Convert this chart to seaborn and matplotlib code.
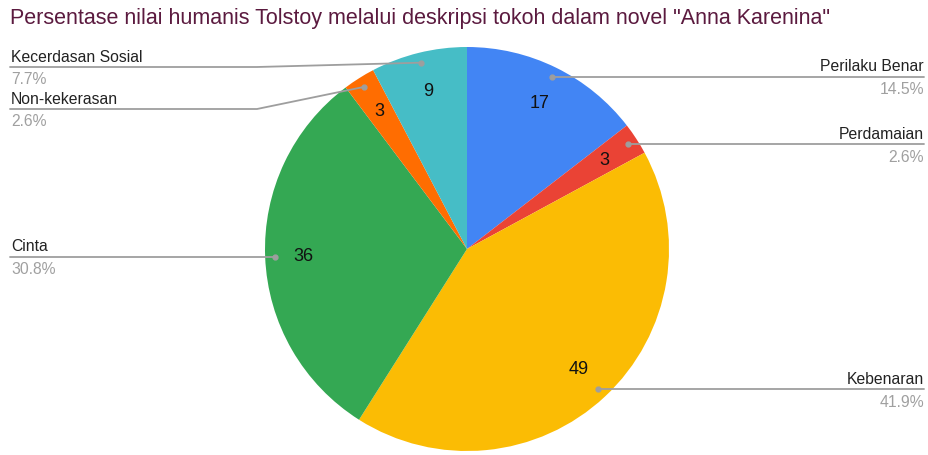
import numpy as np
import matplotlib
matplotlib.use("Agg")
import matplotlib.pyplot as plt
import seaborn as sns

# ---- data ----
categories = ["Perilaku Benar", "Perdamaian", "Kebenaran", "Cinta", "Non-kekerasan", "Kecerdasan Sosial"]
values = [17, 3, 49, 36, 3, 9]
colors = ["#4285F4", "#EA4335", "#FBBC04", "#34A853", "#FF6D01", "#46BDC6"]
title = 'Persentase nilai humanis Tolstoy melalui deskripsi tokoh dalam novel "Anna Karenina"'

sns.set_theme(style="white")
plt.rcParams["font.family"] = ["Liberation Sans", "DejaVu Sans"]

W, H = 929, 456
fig = plt.figure(figsize=(W / 100, H / 100), dpi=100)
ax = fig.add_axes([0, 0, 1, 1])

cx, cy, R = 467, H - 250, 202
total = sum(values)

wedges, texts, autotexts = ax.pie(
    values, colors=sns.color_palette(colors), startangle=90, counterclock=False,
    center=(cx, cy), radius=R,
    autopct=lambda p: f"{p * total / 100:.0f}", pctdistance=0.81,
    wedgeprops=dict(linewidth=0),
    textprops=dict(fontsize=13, color="#111111"),
)
ax.set_xlim(0, W)
ax.set_ylim(0, H)
ax.set_aspect("equal")
ax.axis("off")

# ---- leader lines & labels (layout) ----
line_col = "#9e9e9e"
# horizontal line y (pixels from top) override for crowded left labels
line_y_override = {"Non-kekerasan": 110, "Kecerdasan Sosial": 68}
bend_x_left = 257
for w, cat, v in zip(wedges, categories, values):
    ang = np.deg2rad((w.theta1 + w.theta2) / 2)
    dx, dy = cx + 0.95 * R * np.cos(ang), cy + 0.95 * R * np.sin(ang)
    pct = f"{100 * v / total:.1f}%"
    ax.plot([dx], [dy], "o", color=line_col, ms=3.5, zorder=5)
    if np.cos(ang) >= 0:
        ly = dy
        ax.plot([dx, 924], [ly, ly], color=line_col, lw=1.3, zorder=4)
        ax.text(924, ly + 11, cat, ha="right", va="center", fontsize=11.3, color="#222222")
        ax.text(924, ly - 12, pct, ha="right", va="center", fontsize=11.3, color="#a0a0a0")
    else:
        if cat in line_y_override:
            ly = H - line_y_override[cat]
            ax.plot([dx, bend_x_left, 10], [dy, ly, ly], color=line_col, lw=1.3, zorder=4)
        else:
            ly = dy
            ax.plot([dx, 10], [ly, ly], color=line_col, lw=1.3, zorder=4)
        ax.text(11, ly + 11, cat, ha="left", va="center", fontsize=11.3, color="#222222")
        ax.text(11, ly - 12, pct, ha="left", va="center", fontsize=11.3, color="#a0a0a0")

ax.text(10, H - 18, title, ha="left", va="center", fontsize=15.5, color="#5b1a3f")

fig.savefig("out.png", dpi=100)
